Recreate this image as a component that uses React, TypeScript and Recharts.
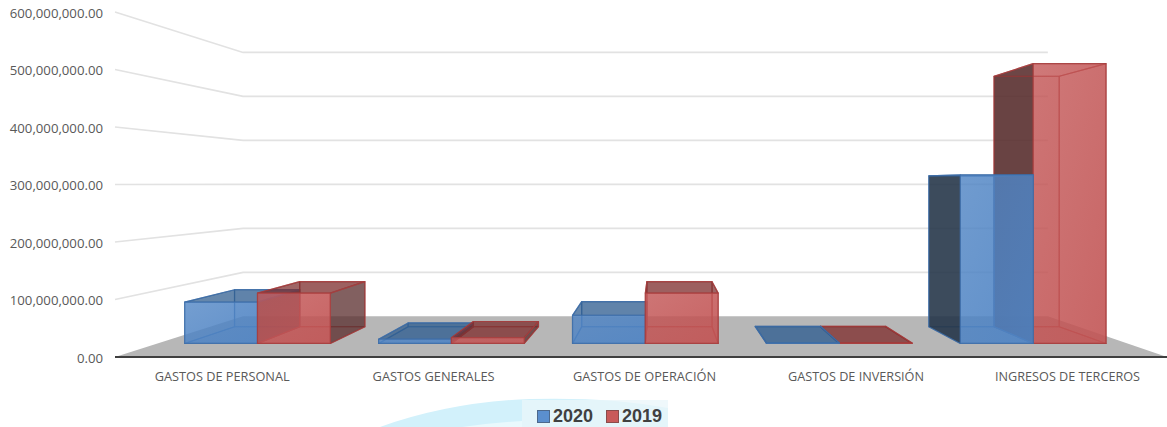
import React from 'react';
import { BarChart, Bar, XAxis, YAxis, CartesianGrid, Legend } from 'recharts';

const categories = ['GASTOS DE PERSONAL', 'GASTOS GENERALES', 'GASTOS DE OPERACIÓN', 'GASTOS DE INVERSIÓN', 'INGRESOS DE TERCEROS'];
const values2020 = [78000000, 8000000, 53000000, 1000000, 318000000];
const values2019 = [95000000, 11000000, 95000000, 1000000, 528000000];
const yTicks = [0, 100000000, 200000000, 300000000, 400000000, 500000000, 600000000];

const data = categories.map((name, i) => ({ name, v2020: values2020[i], v2019: values2019[i] }));

// Perspective camera fitted to the reference: the chart plots on the front plane, shapes get pushed back
const VX = 660;
const VY = 184;
const FRONT = 0.9217;
const BACK = 0.825;
const WALL = 0.765;
const SHIFT = 3;

// the reference squeezes its category labels unevenly, so they are fitted one by one
const labelNudge = [2, 3, 3.5, 4.6, 5.7];
const labelWidth = [135, 122, 143, 136, 145];

const project = (x: number, y: number, s: number) => `${VX + (x - VX) * s},${VY + (y - VY) * s}`;

const BLUE = { id: 'blue', base: '#4f84c4', edge: '#3d6ea8', dark: '#243447', top: '#2c5a8c' };
const RED = { id: 'red', base: '#c25555', edge: '#a63c3c', dark: '#552c2c', top: '#7a2c2c' };

const Face = ({ pts, fill, opacity, edge }: any) => (
  <polygon points={pts.join(' ')} fill={fill} fillOpacity={opacity} stroke={edge} strokeWidth={1.2} strokeOpacity={0.75} strokeLinejoin="round" />
);

const cuboid = (x0: number, width: number, yTop: number, yBase: number, c: any) => {
  const x = x0 + SHIFT;
  const x2 = x + width;
  const quad = (xa: number, ya: number, sa: number, xb: number, yb: number, sb: number, xc: number, yc: number, sc: number, xd: number, yd: number, sd: number) => [
    project(xa, ya, sa), project(xb, yb, sb), project(xc, yc, sc), project(xd, yd, sd),
  ];
  const showRight = x2 < VX;
  const showLeft = x > VX;
  const showTop = yTop > VY;
  return (
    <g>
      <defs>
        <linearGradient id={`front-${c.id}`} x1="0" y1="0" x2="1" y2="1">
          <stop offset="0%" stopColor={c.base} stopOpacity={0.78} />
          <stop offset="100%" stopColor={c.base} stopOpacity={0.9} />
        </linearGradient>
      </defs>
      <Face pts={quad(x, yTop, BACK, x2, yTop, BACK, x2, yBase, BACK, x, yBase, BACK)} fill={c.base} opacity={0.15} edge={c.edge} />
      <Face pts={quad(x, yBase, BACK, x2, yBase, BACK, x2, yBase, FRONT, x, yBase, FRONT)} fill={c.base} opacity={0.2} edge={c.edge} />
      <Face pts={quad(x, yTop, BACK, x, yTop, FRONT, x, yBase, FRONT, x, yBase, BACK)} fill={showLeft ? c.dark : c.base} opacity={showLeft ? 0.88 : 0.04} edge={c.edge} />
      <Face pts={quad(x2, yTop, BACK, x2, yTop, FRONT, x2, yBase, FRONT, x2, yBase, BACK)} fill={showRight ? c.dark : c.base} opacity={showRight ? 0.72 : 0.04} edge={c.edge} />
      <Face pts={quad(x, yTop, BACK, x2, yTop, BACK, x2, yTop, FRONT, x, yTop, FRONT)} fill={showTop ? c.top : c.base} opacity={showTop ? 0.72 : 0.04} edge={c.edge} />
      <Face pts={quad(x, yTop, FRONT, x2, yTop, FRONT, x2, yBase, FRONT, x, yBase, FRONT)} fill={`url(#front-${c.id})`} opacity={1} edge={c.edge} />
    </g>
  );
};

// Right of the vanishing point the 2020 box sits in front of the 2019 side wall, so both are drawn in the 2019 pass
const isRightOfCamera = (x: number) => x > VX;

const Bar2020 = (props: any) => {
  const { x, y, width, height } = props;
  if (isRightOfCamera(x)) return <g />;
  return cuboid(x, width, y, y + height, BLUE);
};

const Bar2019 = (props: any) => {
  const { x, y, width, height, payload } = props;
  const red = cuboid(x, width, y, y + height, RED);
  if (!isRightOfCamera(x - width)) return red;
  const blueHeight = (height * payload.v2020) / payload.v2019;
  return (
    <g>
      {red}
      {cuboid(x - width, width, y + height - blueHeight, y + height, BLUE)}
    </g>
  );
};

const WallLine = (props: any) => {
  const { x1, x2, y1 } = props;
  const isFloor = y1 > 350;
  return (
    <g key={`wall-${y1}`}>
      {isFloor && (
        <polygon points={[`${x1},${y1}`, project(x1, y1, WALL), project(x2, y1, WALL), `${x2},${y1}`].join(' ')} fill="#b7b7b7" />
      )}
      {!isFloor && (
        <polyline points={[`${x1},${y1}`, project(x1, y1, WALL), project(x2, y1, WALL)].join(' ')} fill="none" stroke="#e2e2e2" strokeWidth={1.6} />
      )}
    </g>
  );
};

const formatTick = (v: number) => v.toLocaleString('en-US', { minimumFractionDigits: 2, maximumFractionDigits: 2 });

const CategoryTick = ({ x, y, payload, index }: any) => (
  <text
    x={x + labelNudge[index]}
    y={y + 15.5}
    textAnchor="middle"
    fontFamily="Open Sans"
    fontSize={12.6}
    fill="#595959"
    textLength={labelWidth[index]}
    lengthAdjust="spacingAndGlyphs"
  >
    {payload.value}
  </text>
);

const LegendContent = ({ payload }: any) => (
  <div style={{ display: 'flex', alignItems: 'center', height: 22, marginTop: 8, fontFamily: 'Liberation Sans', fontWeight: 700, fontSize: 18, color: '#404040' }}>
    {(payload || []).map((entry: any) => (
      <span key={entry.value} style={{ display: 'flex', alignItems: 'center', marginRight: 13 }}>
        <span style={{ width: 11, height: 11, marginRight: 3, background: entry.color, border: '1px solid rgba(60,60,60,0.45)' }} />
        {entry.value}
      </span>
    ))}
  </div>
);

export default function App() {
  return (
    <div style={{ position: 'absolute', left: 0, top: 0, width: 1167, height: 427, overflow: 'hidden', background: '#fff' }}>
      <svg width={1167} height={427} style={{ position: 'absolute', left: 0, top: 0 }}>
        <path d="M380 427 Q450 402 530 399 Q610 397 668 408 L668 427 Z" fill="#d2f1fb" />
        <rect x={522} y={400} width={146} height={27} fill="#e9f6fa" fillOpacity={0.75} />
        <path d="M462 427 Q490 423 522 421 L522 427 Z" fill="#e9f9fd" />
      </svg>
      <div style={{ position: 'absolute', left: 0, top: 0 }}>
        <BarChart
          width={1167}
          height={427}
          data={data}
          margin={{ top: 12, right: 0, bottom: 0, left: 0 }}
          barCategoryGap="12.5%"
          barGap={0}
        >
          <CartesianGrid vertical={false} horizontal={WallLine} />
          <XAxis
            dataKey="name"
            height={40}
            interval={0}
            tickLine={false}
            tick={CategoryTick}
            axisLine={{ stroke: '#3f3f3f', strokeWidth: 2 }}
          />
          <YAxis
            width={115}
            domain={[0, 600000000]}
            ticks={yTicks}
            axisLine={false}
            tickLine={false}
            tickMargin={6}
            tickFormatter={formatTick}
            tick={{ fontFamily: 'Open Sans', fontSize: 13.2, fill: '#595959', dy: 1 }}
          />
          <Legend
            verticalAlign="bottom"
            height={30}
            itemSorter={null}
            wrapperStyle={{ left: 537, width: 135, bottom: 0 }}
            content={LegendContent}
          />
          <Bar name="2020" dataKey="v2020" fill="#5b8fce" shape={Bar2020} isAnimationActive={false} />
          <Bar name="2019" dataKey="v2019" fill="#c85a5a" shape={Bar2019} isAnimationActive={false} />
        </BarChart>
      </div>
    </div>
  );
}
